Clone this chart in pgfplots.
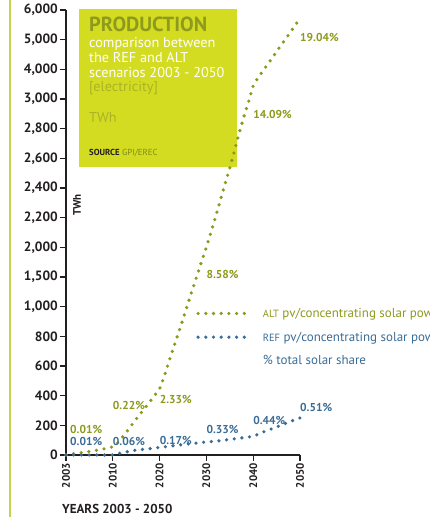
\documentclass[border=0pt]{standalone}
\usepackage{pgfplots}
\pgfplotsset{compat=1.18}
\usepackage{fontspec}
\setmainfont{PT Sans}
\definecolor{altg}{HTML}{8C9A1C}
\definecolor{refb}{HTML}{3A6C96}
\definecolor{boxy}{HTML}{D4DC22}
\definecolor{titleg}{HTML}{8E9A1C}
\definecolor{lightg}{HTML}{A9B325}
\definecolor{borderg}{HTML}{C5D24E}
\definecolor{txt}{HTML}{231F20}
\definecolor{srcg}{HTML}{7C8A14}

\begin{document}
\begin{tikzpicture}[x=1bp,y=1bp]
\path[use as bounding box] (-66,-62) rectangle (363,455);
\draw[borderg, line width=1.5bp] (-56,-62) -- (-56,455);
\fill[boxy] (13,288) rectangle (171,446);
\node[anchor=base west, inner sep=0pt, font=\fontsize{20.5}{20.5}\selectfont\bfseries, text=titleg] at (23,423) {PRODUCTION};
\node[anchor=base west, inner sep=0pt, font=\fontsize{14.3}{15}\selectfont, text=white, align=left] at (23,407) {comparison between};
\node[anchor=base west, inner sep=0pt, font=\fontsize{14.3}{15}\selectfont, text=white] at (23,392) {the REF and ALT};
\node[anchor=base west, inner sep=0pt, font=\fontsize{14.3}{15}\selectfont, text=white] at (23,377) {scenarios 2003 - 2050};
\node[anchor=base west, inner sep=0pt, font=\fontsize{14.3}{15}\selectfont, text=lightg] at (23,363) {[electricity]};
\node[anchor=base west, inner sep=0pt, font=\fontsize{14.3}{15}\selectfont, text=lightg] at (23,332) {TWh};
\node[anchor=base west, inner sep=0pt, font=\fontsize{8.8}{9}\selectfont, text=srcg] at (23,299) {\textbf{\color{txt}SOURCE} GPI/EREC};
\node[anchor=base west, inner sep=0pt, font=\fontsize{13}{13}\selectfont\bfseries, text=txt] at (-4,-58.5) {YEARS 2003 - 2050};
\node[rotate=90, inner sep=0pt, font=\fontsize{11}{11}\selectfont\bfseries, text=txt] at (11,250) {TWh};
\begin{axis}[
  scale only axis, width=234bp, height=445bp,
  at={(0,0)}, anchor=south west,
  clip=false,
  xmin=2003, xmax=2050, ymin=0, ymax=6000,
  x coord trafo/.code={\pgfmathparse{#1<=2010 ? (#1-2003)/7 : 1+(#1-2010)/10}},
  x coord inv trafo/.code={\pgfmathparse{#1<=1 ? 2003+#1*7 : 2010+(#1-1)*10}},
  y coord trafo/.code={\pgfmathparse{#1<=1000 ? #1/200 : (#1<=2000 ? 5+(#1-1000)/500 : (#1<=3000 ? 7+(#1-2000)/200 : 12+(#1-3000)/1000))}},
  y coord inv trafo/.code={\pgfmathparse{#1<=5 ? #1*200 : (#1<=7 ? 1000+(#1-5)*500 : (#1<=12 ? 2000+(#1-7)*200 : 3000+(#1-12)*1000))}},
  axis x line*=bottom, axis y line*=left,
  axis line style={txt, line width=1.2bp},
  tick style={txt, line width=1.2bp},
  tick align=outside, major tick length=6bp,
  xtick={2003,2010,2020,2030,2040,2050},
  xticklabels={2003,2010,2020,2030,2040,2050},
  xticklabel style={rotate=90, anchor=east, font=\fontsize{11}{11}\selectfont\bfseries, text=txt, inner sep=2bp},
  ytick={0,200,400,600,800,1000,1500,2000,2200,2400,2600,2800,3000,4000,5000,6000},
  yticklabels={0,200,400,600,800,{1,000},{1,500},{2,000},{2,200},{2,400},{2,600},{2,800},{3,000},{4,000},{5,000},{6,000}},
  yticklabel style={font=\fontsize{13.5}{13.5}\selectfont\bfseries, text=txt, inner sep=2bp},
  legend style={draw=none, fill=none, at={(0.556,0.335)}, anchor=north west,
    font=\fontsize{13}{13}\selectfont, inner sep=0pt, row sep=9bp,
    /tikz/every odd column/.append style={column sep=10bp}},
  legend cell align=left,
  legend image code/.code={\draw[#1] (0bp,0bp) -- (51bp,0bp);},
]
\addplot[altg, line width=3.6bp, dash pattern=on 0bp off 7.7bp, line cap=round] coordinates {
(2003,0) (2004,8) (2005,14) (2006,20) (2007,27) (2008,35) (2009,44) (2010,55)
(2011,80) (2012,118) (2013,158) (2014,200) (2015,242) (2016,282) (2017,322)
(2018,363) (2019,404) (2020,445) (2021,530) (2022,630) (2023,725) (2024,820)
(2025,915) (2026,1040) (2027,1285) (2028,1525) (2029,1770) (2030,2000)
(2031,2105) (2032,2210) (2033,2320) (2034,2430) (2035,2535) (2036,2650)
(2037,2770) (2038,2880) (2039,2980) (2040,3450) (2041,3710) (2042,3930)
(2043,4150) (2044,4370) (2045,4600) (2046,4820) (2047,5040) (2048,5260)
(2049,5490) (2050,5720)
};
\addlegendentry{\textcolor{altg}{{\fontsize{10.5}{10.5}\selectfont ALT} pv/concentrating solar power}}
\addplot[refb, line width=3.6bp, dash pattern=on 0bp off 7.7bp, line cap=round] coordinates {
(2003,0) (2010,0) (2011,8) (2012,15) (2013,21) (2014,28) (2015,33) (2016,36)
(2018,43) (2020,51) (2022,59) (2024,67) (2026,74) (2028,81) (2030,88)
(2032,93) (2034,101) (2036,109) (2038,117) (2040,125) (2042,153) (2044,177)
(2046,201) (2048,227) (2050,250)
};
\addlegendentry{\textcolor{refb}{{\fontsize{10.5}{10.5}\selectfont REF} pv/concentrating solar power}}
\addlegendimage{empty legend}
\addlegendentry{\textcolor{refb}{\% total solar share}}
\begin{scope}[every node/.style={anchor=west, inner sep=0pt, font=\fontsize{11.5}{11.5}\selectfont\bfseries}]
\node[text=altg] at (axis cs:2003.6,175) {0.01\%};
\node[text=altg] at (axis cs:2010,337) {0.22\%};
\node[text=altg] at (axis cs:2020,377) {2.33\%};
\node[text=altg] at (axis cs:2030,1545) {8.58\%};
\node[text=altg] at (axis cs:2040,2896) {14.09\%};
\node[text=altg] at (axis cs:2050,5070) {19.04\%};
\node[text=refb] at (axis cs:2003.6,88) {0.01\%};
\node[text=refb] at (axis cs:2010,88) {0.06\%};
\node[text=refb] at (axis cs:2020,101) {0.17\%};
\node[text=refb] at (axis cs:2030,175) {0.33\%};
\node[text=refb] at (axis cs:2040,236) {0.44\%};
\node[text=refb] at (axis cs:2050,323) {0.51\%};
\end{scope}
\end{axis}
\end{tikzpicture}
\end{document}
